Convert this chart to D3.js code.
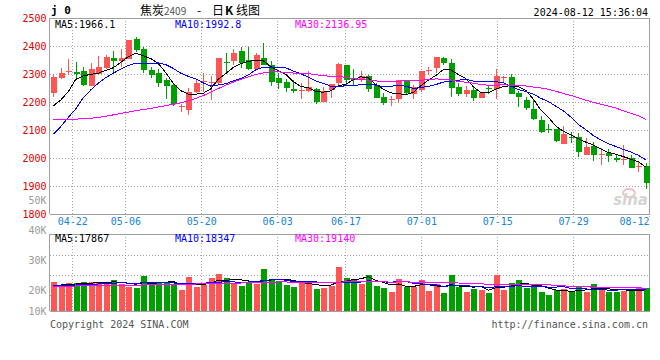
<!DOCTYPE html>
<html><head><meta charset="utf-8">
<script src="https://cdn.jsdelivr.net/npm/d3@7"></script>
<style>
body{margin:0;background:#fff}
svg{display:block}
text{font-family:"DejaVu Sans Mono","Liberation Mono",monospace;font-size:10px}
</style></head><body>
<svg id="c" width="660" height="360"></svg>
<script>
const dates = ["04-17","04-18","04-19","04-22","04-23","04-24","04-25","04-26","04-29","04-30",
"05-06","05-07","05-08","05-09","05-10","05-13","05-14","05-15","05-16","05-17",
"05-20","05-21","05-22","05-23","05-24","05-27","05-28","05-29","05-30","05-31",
"06-03","06-04","06-05","06-06","06-07","06-11","06-12","06-13","06-14",
"06-17","06-18","06-19","06-20","06-21","06-24","06-25","06-26","06-27","06-28",
"07-01","07-02","07-03","07-04","07-05","07-08","07-09","07-10","07-11","07-12",
"07-15","07-16","07-17","07-18","07-19","07-22","07-23","07-24","07-25","07-26",
"07-29","07-30","07-31","08-01","08-02","08-05","08-06","08-07","08-08","08-09","08-12"];
const openP = [2233,2287,2306,2307,2311,2258,2300,2323,2356,2346,2354,2424,2389,2314,2302,2279,2261,2181,2172,2236,
2270,2268,2267,2342,2348,2383,2350,2317,2356,2332,2285,2271,2245,2242,2239,2245,2201,2243,2267,2333,
2281,2279,2293,2261,2219,2209,2210,2279,2229,2243,2312,2320,2357,2338,2252,2227,2243,2216,2249,2248,
2287,2288,2233,2207,2176,2136,2104,2104,2050,2075,2076,2011,2044,2013,2019,2001,1994,1999,1968,1973];
const highP = [2299,2320,2352,2342,2324,2340,2364,2367,2383,2388,2421,2431,2395,2326,2317,2287,2267,2193,2249,2279,
2302,2294,2357,2376,2388,2398,2398,2374,2410,2348,2305,2281,2279,2269,2311,2249,2252,2264,2338,2333,
2317,2310,2298,2269,2231,2222,2279,2279,2261,2312,2324,2360,2360,2352,2267,2257,2255,2237,2257,2317,
2293,2299,2239,2217,2207,2150,2120,2104,2116,2094,2088,2070,2056,2035,2031,2011,2047,2011,1991,1981];
const lowP = [2219,2283,2295,2279,2257,2257,2298,2319,2308,2326,2353,2380,2302,2285,2252,2211,2184,2166,2154,2231,
2237,2206,2260,2302,2331,2323,2314,2314,2333,2256,2248,2235,2231,2211,2237,2192,2201,2213,2261,2261,
2261,2270,2237,2216,2188,2186,2195,2227,2211,2237,2296,2302,2331,2219,2222,2219,2205,2213,2229,2210,
2273,2229,2181,2172,2136,2091,2091,2057,2050,2053,2003,2011,1991,1975,1987,1984,1975,1963,1951,1890];
const closeP = [2290,2305,2309,2300,2262,2318,2325,2360,2346,2357,2421,2386,2314,2298,2269,2258,2193,2185,2237,2267,
2274,2272,2357,2338,2376,2340,2317,2369,2333,2273,2269,2251,2239,2244,2252,2201,2239,2264,2335,2279,
2278,2293,2248,2216,2195,2211,2279,2231,2255,2312,2314,2360,2338,2251,2227,2243,2216,2231,2247,2293,
2290,2229,2219,2177,2138,2094,2101,2061,2085,2073,2023,2041,2011,2016,2008,1993,1997,1966,1970,1912];
const ma5 = [2186,2207,2237,2281,2293.2,2298.8,2302.8,2313,2322.2,2341.2,2361.8,2374,2364.8,2355.2,
2337.6,2305,2266.4,2240.6,2228.4,2228,2231.2,2247,2281.4,2301.6,2323.4,2336.6,2345.6,2348,2347,2326.4,
2312.2,2299,2273,2255.2,2251,2237.4,2235,2240,2258.2,2263.6,2279,2289.8,2286.6,2262.8,2246,2232.6,
2229.8,2226.4,2234.2,2257.6,2278.2,2294.4,2315.8,2315,2298,2283.8,2255,2233.6,2232.8,2246,2255.4,2258,
2255.6,2241.6,2210.6,2171.4,2145.8,2114.2,2095.8,2082.8,2068.6,2056.6,2046.6,2032.8,2019.8,2013.8,2005,
1996,1986.8,1967.6];
const ma10 = [2085,2112,2145,2175,2215,2243,2267,2287,2303,2317.2,2330.3,2338.4,2338.9,2338.7,2339.4,
2333.4,2320.2,2302.7,2291.8,2282.8,2268.1,2256.7,2261,2265,2275.7,2283.9,2296.3,2314.7,2324.3,2324.9,
2324.4,2322.3,2310.5,2301.1,2288.7,2274.8,2267,2256.5,2256.7,2257.3,2258.2,2262.4,2263.3,2260.5,2254.8,
2255.8,2259.8,2256.5,2248.5,2251.8,2255.4,2262.1,2271.1,2274.6,2277.8,2281,2274.7,2274.7,2273.9,2272,
2269.6,2256.5,2244.6,2237.2,2228.3,2213.4,2201.9,2184.9,2168.7,2146.7,2120,2101.2,2080.4,2064.3,2051.3,
2041.2,2030.8,2021.3,2009.8,1993.7];
const ma30 = [2138,2138,2138,2139,2140,2142,2145,2149,2154,2159,2164,2169,2173,2177,2182,2187,2192,2197,
2204,2213,2223,2235,2248,2260,2271,2281,2290,2298,2304,2308.3,2307.6,2305.8,2303.5,2301.6,2301.3,2297.4,
2294.5,2291.3,2290.9,2288.3,2283.6,2280.5,2278.3,2275.5,2273.1,2271.5,2274.4,2275.9,2276.5,2278,2279.3,
2282.3,2281.6,2278.7,2273.8,2270.5,2267.2,2262.6,2259.7,2260.4,2261.1,2260.3,2259.7,2257.4,2253.6,2250.1,
2245.5,2238.7,2230.4,2223.5,2215,2206.6,2198.7,2192,2185.8,2178.5,2169.1,2160.3,2150.8,2137.5];
const volume = [24080,21560,23240,23240,24360,24360,24360,23240,26040,22960,20440,19600,29680,23800,24360,
23240,22680,17640,28840,20440,21560,28000,31080,28000,22680,21000,24360,22400,35560,26880,25200,21840,
19880,25200,24360,18760,19600,21000,36960,27720,26880,22680,30240,21000,19600,15960,26880,20440,20160,
26040,16800,22680,15120,30240,20160,15960,18760,17640,15120,30240,17640,23520,26040,19600,21560,15960,
13440,17640,18760,15960,20160,15960,22680,18760,15960,15960,16800,16800,20160,19320];
const volMa5 = [21840,21840,22400,22680,23296,23352,23912,23912,24472,24192,23408,22456,23744,23296,23576,
24136,24752,22344,23352,22568,22232,23296,25984,25816,26264,26152,25424,23688,25200,26040,26880,26376,
25872,23800,23296,22008,21560,21784,24136,24808,26432,27048,28896,25704,24080,21896,22736,20776,20608,
21896,22064,21224,20160,22176,21000,20832,20048,20552,17528,19544,19880,20832,22512,23408,21672,21336,
19320,17640,17472,16352,17192,17696,18704,18704,18704,17864,18032,16856,17136,17808];
const volMa10 = [21280,21280,21560,21840,22120,22400,22680,22960,23240,23744,23380,23184,23828,23884,23884,
23772,23604,23044,23324,23072,23184,24024,24164,24584,24416,24192,24360,24836,25508,26152,26516,25900,
24780,24500,24668,24444,23968,23828,23968,24052,24220,24304,25340,24920,24444,24164,24892,24836,23156,
22988,21980,21980,20468,21392,21448,21448,20636,20356,19852,20272,20356,20440,21532,20468,20608,20608,
20076,20076,20440,19012,19264,18508,18172,18088,17528,17528,17864,17780,17920,18256];
const volMa30 = [21000,21000,21000,21000,21280,21280,21280,21560,21560,21560,21840,21840,21840,22120,22120,
22400,22400,22400,22680,22680,22960,22960,23240,23240,23520,23520,23800,23800,24080,24323,24360,24369,
24257,24323,24323,24136,23977,23903,24267,24425,24640,24743,24761,24668,24509,24267,24407,24500,24211,
24397,24239,24061,23529,23604,23520,23352,23165,23007,22325,22437,22185,22241,22447,22260,22167,22073,
21868,21756,21149,20757,20533,20309,20057,19983,19861,19861,19525,19404,19404,19180];
const priceTicks = [2500,2400,2300,2200,2100,2000,1900,1800];
const volTicks = [50000,40000,30000,20000,10000];
const dateTicks = ["04-22","05-06","05-20","06-03","06-17","07-01","07-15","07-29","08-12"];
const priceLegend = ["MA5:1966.1","MA10:1992.8","MA30:2136.95"];
const volLegend = ["MA5:17867","MA10:18347","MA30:19140"];
const maColors = ["#000000","#0000ff","#ff00ff"];

const svg = d3.select("#c");
const RED = "#ff5555", GREEN = "#009f00", GRID = "#a8a8a8", BORDER = "#a0a0a0";
const L = 49.5, R = 649.5, PT = 18, PB = 214, VT = 234, VB = 311;

const xBand = d3.scaleBand().domain(d3.range(dates.length)).range([L, R]);
const cx = i => xBand(i) + xBand.bandwidth() / 2;
const xGrid = d3.scalePoint().domain(d3.range(dates.length)).range([L, 649]);
const yP = d3.scaleLinear().domain([1800, 2500]).range([PB, PT]);
const yV = d3.scaleLinear().domain([0, (VB - VT) * 840]).range([VB, VT]);
const yVLabel = d3.scaleLinear().domain([13300, 50000]).range([VB, 200.3]).clamp(true);

// grid
const g = svg.append("g").attr("shape-rendering", "crispEdges");
priceTicks.slice(1, -1).forEach(v => {
  g.append("line").attr("x1", L).attr("x2", R).attr("y1", Math.round(yP(v)) + 0.5).attr("y2", Math.round(yP(v)) + 0.5)
    .attr("stroke", GRID).attr("stroke-dasharray", "1,2");
});
[255.5, 275.5, 295.5].forEach(y => {
  g.append("line").attr("x1", L).attr("x2", R).attr("y1", y).attr("y2", y)
    .attr("stroke", GRID).attr("stroke-dasharray", "1,2");
});
const tickIdx = dateTicks.map(d => dates.indexOf(d));
tickIdx.forEach(i => {
  const x = Math.round(xGrid(i)) + 0.5;
  g.append("line").attr("x1", x).attr("x2", x).attr("y1", PT).attr("y2", PB + 3)
    .attr("stroke", GRID).attr("stroke-dasharray", "1,2");
  g.append("line").attr("x1", x).attr("x2", x).attr("y1", VT).attr("y2", VB)
    .attr("stroke", GRID).attr("stroke-dasharray", "1,2");
});
// borders
[[L, PT + 0.5, R, PT + 0.5], [L, PB + 0.5, R, PB + 0.5], [L, PT, L, PB], [R - 0.5, PT, R - 0.5, PB],
 [L, VT + 0.5, R, VT + 0.5], [L, VB + 0.5, R, VB + 0.5], [L, VT, L, VB], [R - 0.5, VT, R - 0.5, VB]].forEach(a => {
  g.append("line").attr("x1", a[0]).attr("y1", a[1]).attr("x2", a[2]).attr("y2", a[3]).attr("stroke", BORDER);
});

// watermark
const wm = svg.append("g");
wm.append("ellipse").attr("cx", 629).attr("cy", 193).attr("rx", 6).attr("ry", 4)
  .attr("fill", "none").attr("stroke", "#f2c4c4").attr("stroke-width", 2);
wm.append("text").attr("x", 648).attr("y", 205).attr("text-anchor", "end")
  .style("font-family", "DejaVu Sans").style("font-size", "15px").style("font-weight", "bold")
  .style("font-style", "italic").attr("fill", "#d4d4d4").text("sina");

// candles
const n = dates.length;
const cg = svg.append("g").attr("shape-rendering", "crispEdges");
d3.range(n).forEach(i => {
  const up = closeP[i] >= openP[i];
  const col = up ? RED : GREEN;
  const xc = Math.round(cx(i));
  cg.append("line").attr("x1", xc + 0.5).attr("x2", xc + 0.5)
    .attr("y1", yP(highP[i])).attr("y2", yP(lowP[i])).attr("stroke", col);
  const top = yP(Math.max(openP[i], closeP[i])), bot = yP(Math.min(openP[i], closeP[i]));
  cg.append("rect").attr("x", xc - 2.5).attr("width", 6)
    .attr("y", top).attr("height", Math.max(1, bot - top)).attr("fill", col);
  cg.append("rect").attr("x", xc - 2.5).attr("width", 6)
    .attr("y", yV(volume[i])).attr("height", VB - yV(volume[i])).attr("fill", col);
});

// MA lines (aliased, like the original bitmap)
const lineP = d3.line().x((d, i) => cx(i)).y(d => yP(d));
const lineV = d3.line().x((d, i) => cx(i)).y(d => yV(d));
[ma5, ma10, ma30].forEach((arr, k) => {
  svg.append("path").attr("d", lineP(arr)).attr("fill", "none").attr("stroke", maColors[k])
    .attr("stroke-width", 1).attr("shape-rendering", "crispEdges");
});
[volMa5, volMa10, volMa30].forEach((arr, k) => {
  svg.append("path").attr("d", lineV(arr)).attr("fill", "none").attr("stroke", maColors[k])
    .attr("stroke-width", 1).attr("shape-rendering", "crispEdges");
});

// axes
const ax = svg.append("g").attr("transform", `translate(${L},0)`)
  .call(d3.axisLeft(yP).tickValues(priceTicks).tickSize(0).tickPadding(3).tickFormat(d3.format("d")));
ax.select(".domain").remove();
ax.selectAll("text").attr("fill", "#e00000").style("font-family", "DejaVu Sans Mono").style("font-size", "10px");

const av = svg.append("g").attr("transform", `translate(${L},0)`)
  .call(d3.axisLeft(yVLabel).tickValues(volTicks).tickSize(0).tickPadding(3).tickFormat(d => (d / 1000) + "K"));
av.select(".domain").remove();
av.selectAll("text").attr("fill", "#9a9a9a").style("font-family", "DejaVu Sans Mono").style("font-size", "10px");

const axD = svg.append("g").attr("transform", `translate(0,${PB + 4})`)
  .call(d3.axisBottom(xGrid).tickValues(tickIdx).tickSize(0).tickPadding(0).tickFormat(i => dates[i]));
axD.select(".domain").remove();
axD.selectAll("text").attr("fill", "#1784dc").style("font-family", "DejaVu Sans Mono").style("font-size", "10px")
  .attr("dy", "0.71em");
axD.selectAll(".tick").filter(i => i === n - 1).select("text").attr("text-anchor", "end").attr("x", 0);

// legends
const legX = [55, 175, 295];
priceLegend.forEach((t, k) => svg.append("text").attr("x", legX[k]).attr("y", 24).attr("dy", "0.35em")
  .attr("fill", maColors[k]).text(t));
volLegend.forEach((t, k) => svg.append("text").attr("x", legX[k]).attr("y", 238.5).attr("dy", "0.35em")
  .attr("fill", maColors[k]).text(t));

// header
svg.append("text").attr("x", 51).attr("y", 10.5).attr("dy", "0.35em")
  .style("font-weight", "bold").style("font-size", "11px").text("j 0");
const title = svg.append("text").attr("y", 10.5).attr("dy", "0.35em").style("font-family", "'Noto Sans CJK SC'").style("font-size", "12px");
title.append("tspan").attr("x", 140).text("焦炭");
title.append("tspan").attr("x", 164).style("font-size", "10px").attr("fill", "#555").text("2409");
title.append("tspan").attr("x", 197).text("-");
title.append("tspan").attr("x", 212).text("日");
title.append("tspan").attr("x", 225).style("font-weight", "bold").text("K");
title.append("tspan").attr("x", 236).text("线图");
svg.append("text").attr("x", 648).attr("y", 12).attr("dy", "0.35em").attr("text-anchor", "end")
  .text("2024-08-12 15:36:04");

// footer
svg.append("text").attr("x", 50).attr("y", 324).attr("dy", "0.35em").attr("fill", "#555")
  .text("Copyright 2024 SINA.COM");
svg.append("text").attr("x", 648).attr("y", 324).attr("dy", "0.35em").attr("text-anchor", "end").attr("fill", "#555")
  .text("http://finance.sina.com.cn");
</script>
</body></html>
